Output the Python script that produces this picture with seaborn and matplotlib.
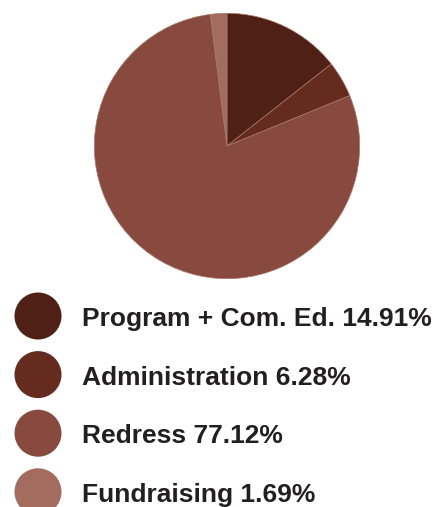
import matplotlib
matplotlib.use("Agg")
import matplotlib.pyplot as plt
import seaborn as sns
from matplotlib.patches import Circle

# slice sizes as drawn in the chart (degrees, in %)
categories = ["Program + Com. Ed.", "Administration", "Redress", "Fundraising"]
slice_sizes = [14.4, 4.4, 79.2, 2.0]
# percentages printed in the legend
legend_pct = ["14.91%", "6.28%", "77.12%", "1.69%"]
colors = ["#4f2015", "#662b1f", "#884a3e", "#a36c5e"]

sns.set_theme(style="white")
plt.rcParams['font.family'] = ['Liberation Sans', 'DejaVu Sans']

W, H = 440, 507
fig = plt.figure(figsize=(W / 100, H / 100), dpi=100)
fig.patch.set_facecolor("white")

# pie axes: centre (227,146) px, radius 134 px
cx, cy, r = 227, 146, 134
ax = fig.add_axes([(cx - r) / W, (H - cy - r) / H, 2 * r / W, 2 * r / H])
wedges, _ = ax.pie(slice_sizes, colors=colors, startangle=90, counterclock=False,
                   radius=1, wedgeprops=dict(edgecolor="#a8766a", linewidth=0.5))
ax.set_xlim(-1.01, 1.01)
ax.set_ylim(-1.01, 1.01)
ax.set_aspect("equal")
ax.axis("off")

# legend drawn in pixel coordinates
lg = fig.add_axes([0, 0, 1, 1])
lg.set_xlim(0, W)
lg.set_ylim(H, 0)
lg.axis("off")
y0, step = 316, 58.6
for i, (name, pct, c) in enumerate(zip(categories, legend_pct, colors)):
    y = y0 + i * step
    lg.add_patch(Circle((38, y), 23.5, color=c, ec="none"))
    lg.text(82.5, y + 10, f"{name} {pct}", fontsize=19, fontweight="bold",
            color="#231f20", va="baseline", ha="left")

fig.savefig("out.png", dpi=100, facecolor="white")
